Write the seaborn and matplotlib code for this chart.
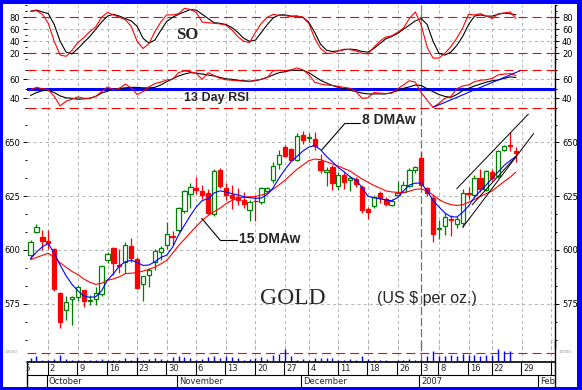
import matplotlib
matplotlib.use("Agg")
import matplotlib.pyplot as plt
import seaborn as sns
from matplotlib.lines import Line2D
from matplotlib.patches import Rectangle
from matplotlib.ticker import FixedLocator, MultipleLocator, AutoMinorLocator

W, H = 582, 390

# ---- daily gold prices, trading day index 0 = 27 Sep 2006 ----
open_px = [597.8, 608.5, 606.2, 604.2, 600.5, 580.2, 571.9, 577.3, 578.1, 581.2,
           576.1, 577.2, 579.6, 595.4, 600.8, 593.1, 594.6, 602.0, 595.8, 584.1,
           588.4, 594.6, 598.9, 602.3, 606.6, 609.3, 618.1, 625.9, 629.0, 627.3,
           626.3, 616.7, 637.2, 628.7, 625.5, 624.7, 623.1, 618.6, 623.0, 622.3,
           627.6, 632.4, 639.9, 647.9, 646.8, 642.0, 653.5, 652.2, 651.6, 641.6,
           636.1, 638.5, 629.6, 634.8, 632.7, 633.0, 629.5, 619.1, 620.3, 626.5,
           623.8, 621.1, 625.5, 627.0, 629.8, 637.0, 642.7, 628.8, 624.0, 609.6,
           611.0, 614.4, 612.3, 612.5, 626.6, 625.4, 633.3, 627.7, 636.2, 634.2,
           646.4, 649.0, 646.0]
high_px = [604.8, 612.3, 609.3, 609.3, 601.0, 580.5, 578.7, 578.7, 583.8, 581.5,
           579.2, 583.0, 592.6, 599.2, 601.5, 600.5, 603.9, 605.7, 596.5, 588.1,
           591.5, 600.5, 602.0, 613.1, 608.8, 619.8, 627.8, 631.3, 633.9, 630.4,
           628.5, 637.5, 638.3, 631.1, 630.3, 628.7, 627.1, 623.1, 625.0, 629.5,
           629.5, 640.7, 646.3, 648.7, 647.4, 654.3, 655.5, 654.5, 654.8, 644.8,
           638.5, 639.3, 636.1, 636.1, 634.3, 634.0, 630.3, 620.2, 625.5, 627.5,
           624.7, 623.5, 632.2, 631.9, 638.3, 639.2, 645.4, 629.5, 625.4, 614.0,
           617.0, 616.4, 616.0, 628.4, 629.3, 634.8, 637.6, 637.2, 637.5, 646.3,
           649.0, 655.0, 648.0]
low_px = [595.8, 607.7, 600.0, 600.5, 580.7, 563.8, 567.6, 565.3, 576.1, 573.5,
          574.5, 574.5, 578.4, 593.8, 588.4, 589.2, 589.2, 594.3, 582.0, 576.4,
          583.0, 590.7, 595.4, 600.5, 602.3, 608.5, 617.4, 619.3, 626.2, 623.9,
          616.5, 615.9, 628.7, 623.1, 619.1, 620.7, 619.5, 613.5, 613.5, 621.5,
          627.0, 631.1, 637.5, 643.1, 641.5, 641.5, 649.5, 650.0, 646.3, 636.0,
          629.6, 628.0, 628.0, 628.2, 627.6, 629.5, 617.4, 614.3, 619.6, 621.7,
          620.3, 620.5, 624.7, 626.5, 629.5, 636.0, 629.5, 625.0, 603.7, 605.0,
          607.0, 606.7, 610.0, 610.5, 623.8, 624.5, 627.0, 627.4, 632.3, 633.5,
          646.0, 646.0, 640.8]
close_px = [603.5, 610.8, 604.2, 603.4, 581.8, 566.4, 575.6, 578.1, 582.7, 576.1,
            576.9, 579.9, 592.6, 598.1, 593.8, 592.4, 602.3, 596.1, 582.3, 587.7,
            590.7, 599.5, 601.1, 607.3, 606.0, 619.3, 627.5, 629.3, 627.8, 625.5,
            617.3, 636.7, 629.8, 625.5, 624.4, 623.1, 621.5, 622.3, 622.6, 628.7,
            628.7, 639.1, 644.2, 643.9, 642.0, 653.2, 651.3, 652.7, 648.5, 637.0,
            637.3, 631.3, 634.8, 631.4, 633.5, 630.8, 618.6, 617.5, 624.7, 624.0,
            621.5, 622.6, 626.3, 630.4, 637.0, 638.4, 630.2, 626.3, 607.4, 610.0,
            615.2, 613.8, 614.5, 626.4, 626.1, 633.3, 628.5, 636.6, 633.6, 646.0,
            648.4, 648.4, 645.0]

ma8 = [596, 599, 601.5, 603, 598.5, 593, 588, 584, 581, 578.5,
       578, 578.2, 581, 586, 589, 592.5, 594.5, 595.2, 594.2, 592.8,
       593, 594.5, 596.5, 597.6, 601.3, 607, 611.5, 616, 620, 623,
       623.8, 626.5, 627.5, 627, 626.2, 625.6, 624.8, 624.3, 624, 624.2,
       625.8, 629, 633.5, 637.5, 641, 643.5, 646, 647.8, 648.6, 646.6,
       643.5, 641, 638.3, 636.3, 634, 632.5, 629, 625, 624.3, 623.8,
       623.3, 622.9, 624.3, 627.5, 630.2, 631.1, 631.1, 627.5, 623, 620,
       617.2, 615.5, 615.3, 617.5, 620.5, 624.5, 627.5, 630.3, 633.5, 636.3,
       639.3, 641.5, 643.5]
ma15 = [595.5, 596.5, 597.5, 598.5, 596.3, 594, 592, 590, 588.5, 586.5,
        585, 584, 584.5, 586, 586.5, 587.5, 589, 589.2, 589.5, 590.2,
        591, 592, 593.5, 595.2, 598.5, 602, 605, 608, 611, 613.8,
        616, 617.8, 619.4, 621.5, 623, 624, 624.5, 624.7, 624.9, 625.5,
        626.5, 628.3, 630.3, 632.5, 635, 637.5, 639.5, 641.5, 642.3, 642,
        641, 640, 639, 637.8, 636.7, 634.8, 633, 631.5, 630, 628.8,
        627.5, 627, 626.8, 626.7, 627.3, 628.2, 628.4, 627.5, 625.5, 623.5,
        622, 621.1, 620.7, 621, 622.2, 623.5, 625, 626.2, 627.5, 629.7,
        631.8, 633.8, 636.2]

so_fast = [90, 91, 85, 70, 40, 17, 15, 25, 38, 46,
           56, 64, 80, 88, 84, 80, 76, 65, 40, 28,
           36, 56, 72, 84, 84, 86, 95, 93, 88, 72,
           71, 70, 69, 67, 59, 48, 40, 38, 55, 70,
           80, 85, 83, 83, 81, 82, 80, 70, 45, 28,
           20, 20, 24, 27, 26, 24, 20, 19, 30, 40,
           47, 49, 55, 62, 78, 89, 67, 30, 12, 12,
           20, 31, 45, 62, 85, 84, 86, 82, 78, 86,
           87, 89, 78]
so_slow = [90, 92, 89, 86, 68, 40, 22, 19, 28, 38,
           48, 60, 72, 82, 85, 82, 78, 74, 65, 45,
           37, 42, 58, 73, 80, 85, 89, 93, 92, 85,
           78, 71, 70, 68, 63, 55, 45, 40, 42, 55,
           68, 79, 84, 84, 82, 82, 80, 72, 55, 35,
           25, 23, 24, 26, 27, 26, 23, 22, 28, 36,
           44, 48, 53, 60, 67, 74, 78, 68, 40, 20,
           17, 22, 33, 48, 68, 82, 84, 82, 82, 85,
           87, 86, 84]

rsi_fast = [49, 51.6, 50, 49, 42, 32, 37, 39, 41.5, 40,
            40, 42, 47, 52, 49, 50.5, 55, 51, 44, 47,
            52, 55.5, 57, 59.3, 60, 67, 68.8, 68, 66, 60,
            67, 64, 61, 59.5, 59, 58.5, 58, 57.5, 59, 60,
            62, 69, 69.5, 69, 70, 72, 70, 65, 57, 55,
            54, 53.5, 52.5, 51.5, 50.5, 47, 40, 40.5, 46, 45.5,
            45, 45.3, 50, 54, 58.5, 57, 46, 38, 30.5, 34.7,
            40, 41.8, 50, 53, 54, 57.5, 59, 59.5, 61, 64.6,
            65.5, 66, 64]
rsi_slow = [43, 46, 48, 48.5, 46, 42.5, 40.5, 40, 39, 39.5,
            40, 42, 45.5, 47.5, 49.5, 50.5, 51, 51.5, 51.5, 51,
            51, 51.5, 54, 57.5, 60.5, 63.5, 65.5, 67, 66.5, 65.5,
            64.5, 63.5, 62, 60.5, 60, 59, 58.5, 58, 58.5, 60,
            62, 64.6, 67, 68, 69.5, 69.5, 69.5, 67, 63, 59,
            56, 53.5, 51.5, 50, 48.5, 47, 45.5, 44.6, 44.6, 44.6,
            44.6, 46, 48, 50.5, 52, 54, 53.5, 50, 47, 44,
            42, 41, 44, 48, 50.5, 53, 55, 57, 58.5, 59.3,
            61, 62.5, 62]

volume = [4800, 6300, 2600, 1900, 3700, 7400, 3700, 2600, 1900, 1900,
          1900, 2600, 3700, 1900, 2600, 1900, 4800, 1900, 5600, 1900,
          3700, 4400, 3300, 1900, 5600, 6300, 5600, 4400, 1900, 3000,
          5600, 6300, 4800, 6300, 5600, 4400, 2600, 3700, 4400, 5600,
          3700, 7000, 8100, 13700, 6300, 2600, 3700, 2600, 4800, 4800,
          4800, 4800, 2600, 1900, 3000, 1900, 6300, 3700, 2600, 2600,
          1900, 1100, 1900, 2600, 3700, 1900, 1900, 6300, 12200, 6300,
          6300, 7400, 6300, 8500, 7400, 7400, 6300, 7400, 7400, 14100,
          11900, 11900, 0]

days = list(range(len(close_px)))

# x axis: first trading day of each week / month
week_idx = [-2, 3, 8, 13, 18, 23, 28, 33, 38, 43, 47, 52, 57, 62, 66, 69, 74, 78, 83, 88]
week_labels = ["25", "2", "9", "16", "23", "30", "6", "13", "20", "27", "4", "11",
               "18", "26", "3", "8", "16", "22", "29", "5"]
month_idx = [3, 25, 46, 66, 86]
month_labels = ["October", "November", "December", "2007", "Feb"]
year_idx = 66

# hand-drawn trend lines (start, end) as (day, value)
price_channels = [((72, 628.5), (84.1, 663.2)),
                  ((73, 610.5), (85.0, 654.2)),
                  ((74.6, 621.0), (82.0, 643.4))]
rsi_trend = ((68, 30.5), (82.7, 69.0))

GREEN = "#008000"
RED = "#ff0000"
BLUE = "#0000ff"
GRID = "#b4b4b4"

sns.set_style("white")
plt.rcParams["font.family"] = ["DejaVu Sans"]
plt.rcParams["lines.scale_dashes"] = False


def px_rect(x0, y0, x1, y1):
    return [x0 / W, 1 - y1 / H, (x1 - x0) / W, (y1 - y0) / H]


def fx(x):
    return x / W


def fy(y):
    return 1 - y / H


XLIM = (-0.6, 88.6)
fig = plt.figure(figsize=(W / 100, H / 100), dpi=100, facecolor=BLUE)
fig.add_artist(Rectangle((fx(3), fy(387)), 574 / W, 383 / H, transform=fig.transFigure,
                         facecolor="white", edgecolor="none", zorder=-5))

so_ax = fig.add_axes(px_rect(27, 5, 555, 62))
rsi_ax = fig.add_axes(px_rect(27, 62, 555, 110))
price_ax = fig.add_axes(px_rect(27, 110, 555, 348))
vol_ax = fig.add_axes(px_rect(27, 340, 555, 362))
date_ax = fig.add_axes(px_rect(27, 362, 555, 387))


def base_style(ax, ylim, major=None, minor=None):
    ax.set_facecolor("none")
    ax.set_xlim(*XLIM)
    ax.set_ylim(*ylim)
    for s in ["top", "bottom", "left"]:
        ax.spines[s].set_visible(False)
    ax.spines["right"].set_visible(True)
    ax.spines["right"].set_color("black")
    ax.spines["right"].set_linewidth(1)
    ax.set_xticks([])
    ax.set_xlabel("")
    ax.set_ylabel("")
    if major is None:
        ax.set_yticks([])
        return
    ax.yaxis.set_major_locator(FixedLocator(major))
    ax.yaxis.set_minor_locator(minor)
    ax.tick_params(axis="y", which="both", left=True, right=True, labelleft=True,
                   labelright=True, direction="out", labelsize=6, pad=2,
                   colors="black", width=0.7)
    ax.tick_params(axis="y", which="major", length=3)
    ax.tick_params(axis="y", which="minor", length=1.5)


def week_grid(ax, dashed_year=False):
    for i in week_idx:
        if i != year_idx:
            ax.axvline(i, color=GRID, lw=0.7, ls=(0, (2.2, 2.2)), zorder=0)
    if dashed_year:
        ax.axvline(year_idx, color="#707070", lw=0.9, ls=(0, (6, 2)), zorder=0)
    else:
        ax.axvline(year_idx, color="#808080", lw=0.9, zorder=0)


# ---- stochastic oscillator ----
week_grid(so_ax)
for v in [40, 60]:
    so_ax.axhline(v, color=GRID, lw=0.7, ls=(0, (2.2, 2.2)), zorder=0)
for v in [20, 80]:
    so_ax.axhline(v, color=RED, lw=0.8, ls=(0, (6.5, 3.6)), zorder=1)
sns.lineplot(x=days, y=so_slow, ax=so_ax, color="black", linewidth=0.8, zorder=3)
sns.lineplot(x=days, y=so_fast, ax=so_ax, color=RED, linewidth=0.8, zorder=4)
base_style(so_ax, (5.5, 100.5), [20, 40, 60, 80], MultipleLocator(10))

# ---- 13 day RSI ----
week_grid(rsi_ax)
for v in [40, 60]:
    rsi_ax.axhline(v, color=GRID, lw=0.7, ls=(0, (2.2, 2.2)), zorder=0)
for v in [30, 70]:
    rsi_ax.axhline(v, color=RED, lw=0.8, ls=(0, (6.5, 3.6)), zorder=1)
rsi_ax.axhline(50, color=BLUE, lw=2.2, zorder=2)
sns.lineplot(x=days, y=rsi_slow, ax=rsi_ax, color="black", linewidth=0.8, zorder=3)
sns.lineplot(x=days, y=rsi_fast, ax=rsi_ax, color=RED, linewidth=0.8, zorder=4)
(x0, y0), (x1, y1) = rsi_trend
rsi_ax.plot([x0, x1], [y0, y1], color=BLUE, lw=0.8, zorder=5)
base_style(rsi_ax, (27.7, 78.2), [40, 60], MultipleLocator(10))

# ---- price candles ----
week_grid(price_ax, dashed_year=True)
for v in [575, 600, 625, 650]:
    price_ax.axhline(v, color=GRID, lw=0.7, ls=(0, (2.2, 2.2)), zorder=0)
for i in days:
    up = close_px[i] >= open_px[i]
    col = GREEN if up else RED
    price_ax.vlines(i, low_px[i], high_px[i], color=col, lw=0.9, zorder=2)
    lo = min(open_px[i], close_px[i])
    h = max(abs(close_px[i] - open_px[i]), 0.25)
    price_ax.bar(i, h, bottom=lo, width=0.72, color="white" if up else RED,
                 edgecolor=col, linewidth=0.9, zorder=3)
sns.lineplot(x=days, y=ma15, ax=price_ax, color=RED, linewidth=0.8, zorder=4)
sns.lineplot(x=days, y=ma8, ax=price_ax, color=BLUE, linewidth=0.8, zorder=5)
for (x0, y0), (x1, y1) in price_channels:
    price_ax.plot([x0, x1], [y0, y1], color="black", lw=0.7, zorder=6)
base_style(price_ax, (554.4, 665.1), [575, 600, 625, 650], AutoMinorLocator(3))

# ---- volume ----
week_grid(vol_ax, dashed_year=True)
vol_ax.axhline(10000, color=RED, lw=0.8, ls=(0, (6.5, 3.6)), zorder=1)
vol_ax.vlines(days, 0, volume, color=BLUE, lw=1.0, zorder=2)
base_style(vol_ax, (0, 23656))

# ---- date rows ----
date_ax.set_xlim(*XLIM)
date_ax.set_ylim(0, 1)
date_ax.axis("off")
date_ax.axhline(1.0, color="black", lw=1.2, clip_on=False)
date_ax.axhline(0.5, color="black", lw=0.8, clip_on=False)
date_ax.axvline(XLIM[0], color="black", lw=1.0, clip_on=False)
date_ax.axvline(XLIM[1], color="black", lw=1.0, clip_on=False)
for i, lab in zip(week_idx, week_labels):
    date_ax.vlines(i - 0.1, 0.5, 1.0, color="black", lw=0.8)
    date_ax.text(i + 0.25, 0.74, lab, fontsize=6, ha="left", va="center", clip_on=True)
for i, lab in zip(month_idx, month_labels):
    date_ax.vlines(i - 0.3, 0.0, 0.5, color="black", lw=0.8)
    date_ax.text(i + 0.1, 0.24, lab, fontsize=6, ha="left", va="center", clip_on=True)

# ---- labels and leaders ----
fig.text(fx(187.5), fy(35), "SO", family="Liberation Serif", weight="bold",
         fontsize=12, ha="center", va="center")
fig.text(fx(216.7), fy(97.5), "13 Day RSI", family="Liberation Sans", weight="bold",
         fontsize=9, ha="center", va="center")
fig.text(fx(389), fy(120), "8 DMAw", family="Liberation Sans", weight="bold",
         fontsize=10, ha="center", va="center")
fig.text(fx(270), fy(238.5), "15 DMAw", family="Liberation Sans", weight="bold",
         fontsize=10, ha="center", va="center")
fig.text(fx(292.5), fy(298), "GOLD", family="Liberation Serif", fontsize=17,
         ha="center", va="center")
fig.text(fx(426.5), fy(299), "(US $ per oz.)", family="Liberation Sans", fontsize=11.5,
         ha="center", va="center")
fig.text(fx(5), fy(352), "10000", fontsize=3, color="#909090", ha="left", va="center")
fig.text(fx(559), fy(352), "10000", fontsize=3, color="#909090", ha="left", va="center")

leaders = [[(345, 123.3), (360, 123.3)], [(345, 123.3), (321.7, 150)],
           [(201.7, 218.3), (220, 240)], [(220, 240), (236.7, 240)]]
for (ax_, ay_), (bx_, by_) in leaders:
    fig.add_artist(Line2D([fx(ax_), fx(bx_)], [fy(ay_), fy(by_)], color="black",
                          lw=0.8, transform=fig.transFigure))

fig.savefig("out.png", dpi=100, facecolor=fig.get_facecolor())
